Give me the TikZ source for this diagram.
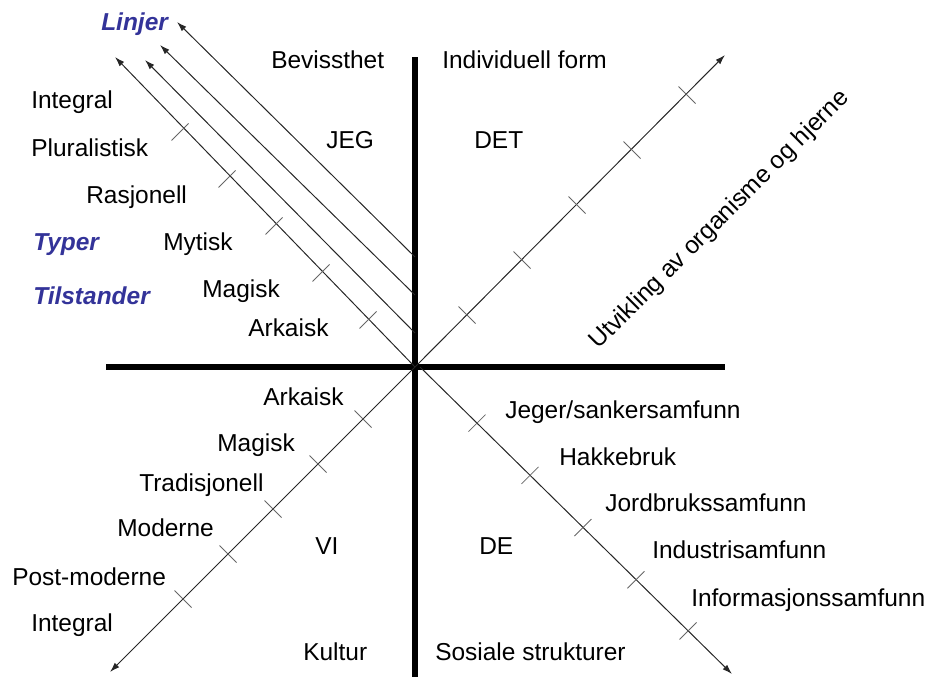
\documentclass[tikz,border=0pt]{standalone}
\usepackage{fontspec}
\setmainfont{Liberation Sans}
\usetikzlibrary{arrows.meta,calc}
\definecolor{linjeblaa}{RGB}{51,51,153}
\tikzset{
  tekst/.style={font=\fontsize{17.4}{20}\selectfont, inner sep=0pt, anchor=base west},
  overskrift/.style={tekst, font=\fontsize{17.4}{20}\selectfont\bfseries\itshape, text=linjeblaa},
  akse/.style={line width=4.3pt},
  linje/.style={line width=0.7pt, black!85, -{Latex[length=7pt,width=4.5pt]}},
  strek/.style={line width=0.6pt, black!60}
}
\begin{document}
\begin{tikzpicture}[x=0.025cm,y=-0.025cm]
	\useasboundingbox (0,0) rectangle (930,677);
	\coordinate (O) at (415,367);
	\coordinate (W) at (106,367);
	\coordinate (E) at (725,367);
	\coordinate (N) at (415,57);
	\coordinate (S) at (415,677);
	\coordinate (nw1) at (415,257);
	\coordinate (nw2) at (415,295);
	\coordinate (nw3) at (415,333);
	\coordinate (se0) at (420,367);
	\node[overskrift] (linjer) at (101,30) {Linjer};
	\node[overskrift] (typer) at (33,250) {Typer};
	\node[overskrift] (tilst) at (33,304) {Tilstander};
	\node[tekst] (bev) at (271,68) {Bevissthet};
	\node[tekst] (indf) at (442,68) {Individuell form};
	\node[tekst] (jeg) at (326,148) {JEG};
	\node[tekst] (det) at (474,148) {DET};
	\node[tekst] (vi) at (315,554) {VI};
	\node[tekst] (de) at (479,554) {DE};
	\node[tekst] (kultur) at (303,660) {Kultur};
	\node[tekst] (sos) at (435,660) {Sosiale strukturer};
	\node[tekst] (ti1) at (31,108) {Integral};
	\node[tekst] (ti2) at (31,156) {Pluralistisk};
	\node[tekst] (ti3) at (86,203) {Rasjonell};
	\node[tekst] (ti4) at (163,250) {Mytisk};
	\node[tekst] (ti5) at (202,297) {Magisk};
	\node[tekst] (ti6) at (248,336) {Arkaisk};
	\node[tekst] (ku1) at (263,405) {Arkaisk};
	\node[tekst] (ku2) at (217,451) {Magisk};
	\node[tekst] (ku3) at (139,491) {Tradisjonell};
	\node[tekst] (ku4) at (117,536) {Moderne};
	\node[tekst] (ku5) at (12,585) {Post-moderne};
	\node[tekst] (ku6) at (31,631) {Integral};
	\node[tekst] (so1) at (505,418) {Jeger/sankersamfunn};
	\node[tekst] (so2) at (559,465) {Hakkebruk};
	\node[tekst] (so3) at (605,511) {Jordbrukssamfunn};
	\node[tekst] (so4) at (652,558) {Industrisamfunn};
	\node[tekst] (so5) at (691,606) {Informasjonssamfunn};
	\node[tekst, anchor=center, rotate=45] (utv) at (720,220) {Utvikling av organisme og hjerne};
	\coordinate (ne) at (725,55);
	\coordinate (sw) at (110,672);
	\coordinate (se) at (732,674);
	\coordinate (nwa) at (177,22);
	\coordinate (nwb) at (160,45);
	\coordinate (nwc) at (145,60);
	\coordinate (nwd) at (115,57);
	\draw[akse] (W) -- (E);
	\draw[akse] (N) -- (S);
	\draw[linje] (O) -- (ne);
	\draw[linje] (O) -- (sw);
	\draw[linje] (se0) -- (se);
	\draw[linje] (nw1) -- (nwa);
	\draw[linje] (nw2) -- (nwb);
	\draw[linje] (nw3) -- (nwc);
	\draw[linje] (O) -- (nwd);
	\foreach \d in {52,107,162,217,272}
		\draw[strek] ($(O)+(\d,-\d)$) ++(-8.5,-8.5) -- ++(17,17);
	\foreach \d in {47,94,141,188,235}
		\draw[strek] ($(O)+(-\d,-\d)$) ++(-8.5,8.5) -- ++(17,-17);
	\foreach \d in {52,97,142,187,232}
		\draw[strek] ($(O)+(-\d,\d)$) ++(-8.5,-8.5) -- ++(17,17);
	\foreach \d in {57,110,163,216,268}
		\draw[strek] ($(se0)+(\d,0.985*\d)$) ++(-8.5,8.5) -- ++(17,-17);
\end{tikzpicture}
\end{document}
